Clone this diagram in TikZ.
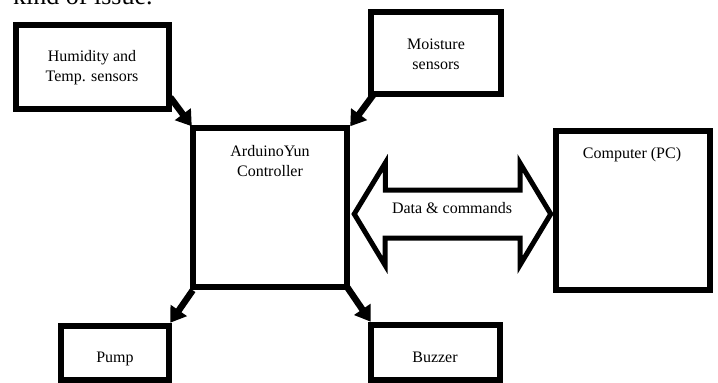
\documentclass[tikz,border=0pt]{standalone}
\usepackage{fontspec}
\setmainfont{Liberation Serif}
\usetikzlibrary{arrows.meta,calc}
\tikzset{
  blk/.style={draw=black, line width=6.5pt, inner sep=0pt, fill=white},
  lbl/.style={align=center, inner sep=0pt, font=\fontsize{16}{20}\selectfont},
  arr/.style={line width=6.5pt, -{Triangle[length=15pt,width=19pt]}},
  dbl/.style={draw=black, line width=5pt, line join=miter, fill=white}
}
\begin{document}
\begin{tikzpicture}[x=1pt,y=-1pt]
\useasboundingbox (0,0) rectangle (718,383);
\clip (0,0) rectangle (718,383);
% cut-off text line at top
\node[anchor=base west, inner sep=0pt, font=\fontsize{26}{30}\selectfont] (top) at (13,4) {kind of issue.};
% boxes
\node[blk, minimum width=153pt, minimum height=84pt] (hum) at (92.5,67) {};
\node[blk, minimum width=130pt, minimum height=82pt] (moist) at (436,53) {};
\node[blk, minimum width=154pt, minimum height=159pt] (ctrl) at (270,207.5) {};
\node[blk, minimum width=154pt, minimum height=159pt] (pc) at (633,210.5) {};
\node[blk, minimum width=108pt, minimum height=54pt] (pump) at (115,353) {};
\node[blk, minimum width=129pt, minimum height=55pt] (buzz) at (435.5,352.5) {};
% texts
\node[lbl] (humt) at (92,68) {Humidity and\\Temp. sensors};
\node[lbl] (moistt) at (436,54) {Moisture\\sensors};
\node[lbl] (ctrlt) at (270,161) {ArduinoYun\\Controller};
\node[lbl] (pct) at (632,155) {Computer (PC)};
\node[lbl] (pumpt) at (115,359) {Pump};
\node[lbl] (buzzt) at (435,357) {Buzzer};
% arrows
\draw[arr] ($(hum.south east)+(-2,-15)$) -- ($(ctrl.north west)+(2,1.5)$);
\draw[arr] ($(moist.south west)+(6,-3)$) -- ($(ctrl.north east)+(0,1.5)$);
\draw[arr] ($(ctrl.south west)+(3,0)$) -- ($(pump.north east)+(-2,0)$);
\draw[arr] ($(ctrl.south east)+(-3,-3)$) -- ($(buzz.north west)+(3,0)$);
% double arrow
\coordinate (lt) at ($(ctrl.east)+(4,6.5)$);
\coordinate (rt) at ($(pc.west)+(-2,3.5)$);
\draw[dbl] (lt) -- ++(31,-51) -- ++(0,27) -- (520,190) -- (520,163) -- (rt)
  -- (520,265) -- (520,238) -- (385,238) -- (385,265) -- cycle;
\node[lbl] (link) at (452,208) {Data \& commands};
\end{tikzpicture}
\end{document}
